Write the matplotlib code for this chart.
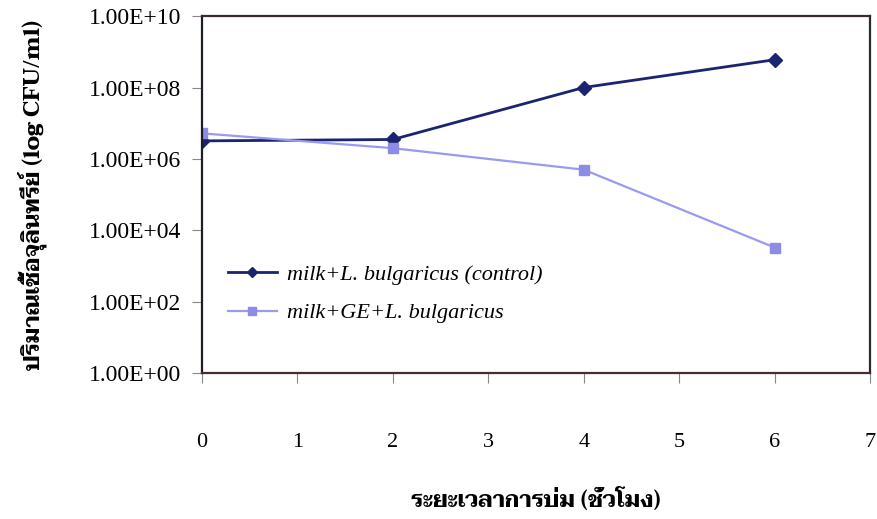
import matplotlib
matplotlib.use("Agg")
import matplotlib.pyplot as plt
from matplotlib.ticker import FixedLocator, FixedFormatter, NullLocator

# incubation time (h) and viable counts (CFU/ml)
hours = [0, 2, 4, 6]
control_cfu = [3.2e6, 3.5e6, 1.0e8, 6.0e8]
ge_cfu = [5.2e6, 2.0e6, 5.0e5, 3.3e3]

series_labels = ["milk+L. bulgaricus (control)", "milk+GE+L. bulgaricus"]
y_tick_values = [1e0, 1e2, 1e4, 1e6, 1e8, 1e10]
y_tick_labels = ["1.00E+00", "1.00E+02", "1.00E+04", "1.00E+06", "1.00E+08", "1.00E+10"]
x_tick_values = [0, 1, 2, 3, 4, 5, 6, 7]

xlabel_text = "ระยะเวลาการบ่ม (ชั่วโมง)"
ylabel_text = "ปริมาณเชื้อจุลินทรีย์ (log CFU/ml)"

serif = ["Liberation Serif", "DejaVu Serif"]
thai = ["Taviraj", "Liberation Serif", "DejaVu Serif"]
plt.rcParams["font.family"] = serif

fig = plt.figure(figsize=(8.78, 5.19), dpi=100)
ax = fig.add_axes([0.230, 0.281, 0.761, 0.688])

ax.plot(hours, control_cfu, color="#1a2470", lw=2.0, marker="D", ms=7,
        mfc="#1a2470", mec="#1a2470", label=series_labels[0])
ax.plot(hours, ge_cfu, color="#9a9af0", lw=1.6, marker="s", ms=7,
        mfc="#8c8ce6", mec="#8c8ce6", label=series_labels[1])

ax.set_yscale("log")
ax.set_ylim(1e0, 1e10)
ax.set_xlim(0, 7)
ax.yaxis.set_major_locator(FixedLocator(y_tick_values))
ax.yaxis.set_major_formatter(FixedFormatter(y_tick_labels))
ax.yaxis.set_minor_locator(NullLocator())
ax.set_xticks(x_tick_values)
ax.set_xticklabels([str(v) for v in x_tick_values])

ax.tick_params(axis="y", direction="out", length=7, width=0.8, color="#888888",
               labelsize=17, pad=8)
ax.tick_params(axis="x", direction="out", length=7, width=0.8, color="#888888",
               labelsize=16, pad=36)

for side, col in [("left", "#1c1c2a"), ("top", "#3a2a2a"),
                  ("right", "#2a2a2a"), ("bottom", "#4a2a2a")]:
    ax.spines[side].set_color(col)
    ax.spines[side].set_linewidth(1.6)

ax.set_xlabel(xlabel_text, family=thai, fontsize=16, fontweight="bold", labelpad=26)
ax.set_ylabel(ylabel_text, family=thai, fontsize=16, fontweight="bold", labelpad=30)

leg = ax.legend(loc="center left", bbox_to_anchor=(0.039, 0.222), frameon=False,
                prop={"family": serif, "style": "italic", "size": 16},
                handlelength=2.2, handletextpad=0.45, labelspacing=0.8,
                markerscale=0.8, borderpad=0, borderaxespad=0)

fig.savefig("out.png", dpi=100)
